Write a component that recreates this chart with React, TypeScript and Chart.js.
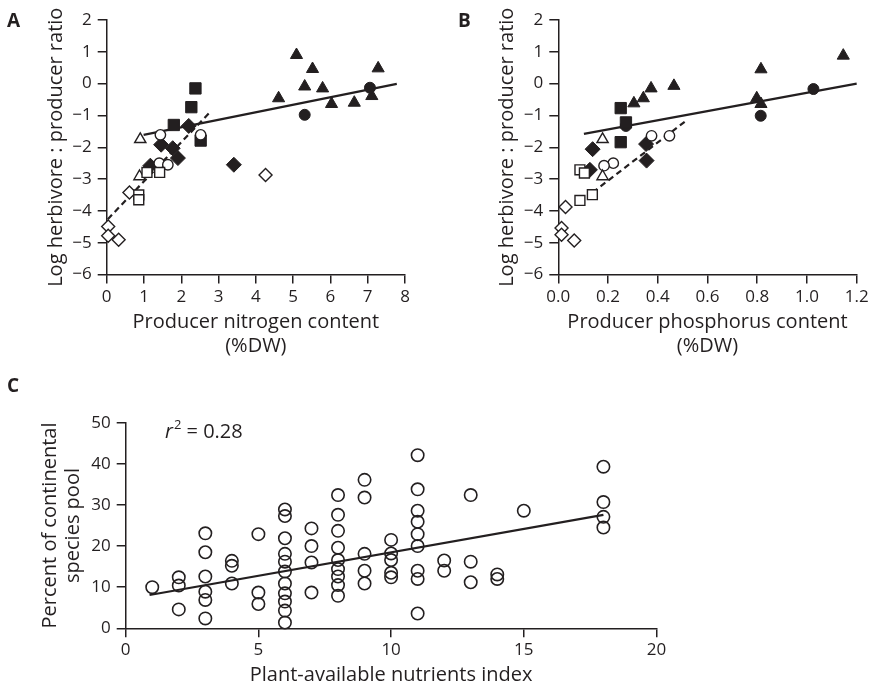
import React, { useEffect, useRef } from 'react';
import { Chart, registerables } from 'chart.js';

Chart.register(...registerables);

type Pt = [number, number];

// ---------- Panel A: producer nitrogen content (%DW) vs log herbivore:producer ratio
const aFilledTriangles: Pt[] = [[5.09, 0.9], [5.52, 0.46], [7.28, 0.48], [5.31, -0.09], [5.79, -0.15], [4.61, -0.46], [6.03, -0.64], [6.64, -0.6], [7.11, -0.39]];
const aFilledCircles: Pt[] = [[5.31, -0.98], [7.06, -0.13]];
const aFilledSquares: Pt[] = [[2.38, -0.15], [2.27, -0.74], [1.8, -1.3], [2.52, -1.79]];
const aFilledDiamonds: Pt[] = [[2.2, -1.33], [1.46, -1.92], [1.77, -2.03], [1.91, -2.34], [1.17, -2.58], [3.41, -2.55]];
const aOpenCircles: Pt[] = [[1.44, -1.61], [2.52, -1.61], [1.41, -2.5], [1.64, -2.55]];
const aOpenTriangles: Pt[] = [[0.9, -1.75], [0.88, -2.92]];
const aOpenSquares: Pt[] = [[1.08, -2.79], [1.42, -2.79], [0.86, -3.5], [0.86, -3.65]];
const aOpenDiamonds: Pt[] = [[0.61, -3.42], [0.04, -4.49], [0.04, -4.78], [0.32, -4.91], [4.26, -2.87]];
const aSolidFit: Pt[] = [[0.99, -1.61], [7.78, -0.01]];
const aDashedFit: Pt[] = [[0.03, -4.26], [2.76, -0.91]];

// ---------- Panel B: producer phosphorus content (%DW)
const bFilledTriangles: Pt[] = [[1.146, 0.88], [0.815, 0.45], [0.465, -0.07], [0.373, -0.15], [0.342, -0.46], [0.304, -0.62], [0.798, -0.46], [0.815, -0.64]];
const bFilledCircles: Pt[] = [[1.026, -0.17], [0.814, -1.01], [0.272, -1.33]];
const bFilledSquares: Pt[] = [[0.251, -0.77], [0.272, -1.22], [0.251, -1.84]];
const bFilledDiamonds: Pt[] = [[0.138, -2.06], [0.353, -1.9], [0.355, -2.42], [0.127, -2.71]];
const bOpenCircles: Pt[] = [[0.375, -1.64], [0.447, -1.64], [0.221, -2.5], [0.184, -2.58]];
const bOpenTriangles: Pt[] = [[0.178, -1.75], [0.178, -2.92]];
const bOpenSquares: Pt[] = [[0.087, -2.71], [0.105, -2.81], [0.087, -3.67], [0.137, -3.49]];
const bOpenDiamonds: Pt[] = [[0.029, -3.88], [0.013, -4.54], [0.013, -4.75], [0.064, -4.93]];
const bSolidFit: Pt[] = [[0.103, -1.58], [1.2, 0.0]];
const bDashedFit: Pt[] = [[0.138, -3.42], [0.51, -1.19]];

// ---------- Panel C: plant-available nutrients index vs percent of continental species pool
const cNutrients: number[] = [
  1,
  2, 2, 2,
  3, 3, 3, 3, 3, 3,
  4, 4, 4,
  5, 5, 5,
  6, 6, 6, 6, 6, 6, 6, 6, 6, 6, 6,
  7, 7, 7, 7,
  8, 8, 8, 8, 8, 8, 8, 8, 8,
  9, 9, 9, 9, 9,
  10, 10, 10, 10, 10,
  11, 11, 11, 11, 11, 11, 11, 11, 11,
  12, 12,
  13, 13, 13,
  14, 14,
  15,
  18, 18, 18, 18,
];
const cPercent: number[] = [
  10.0,
  12.4, 10.4, 4.6,
  23.1, 18.5, 12.6, 8.9, 6.9, 2.4,
  16.4, 15.2, 10.9,
  22.9, 8.7, 5.9,
  28.9, 27.3, 21.9, 18.1, 16.2, 13.8, 10.9, 8.5, 6.5, 4.3, 1.4,
  24.3, 20.0, 16.0, 8.7,
  32.4, 27.6, 23.7, 19.6, 16.6, 14.4, 12.6, 10.5, 7.9,
  36.1, 31.8, 18.1, 14.0, 10.9,
  21.5, 18.2, 16.6, 13.5, 12.4,
  42.1, 33.8, 28.6, 25.9, 22.9, 20.0, 14.0, 12.0, 3.6,
  16.5, 14.0,
  32.4, 16.2, 11.2,
  13.1, 12.0,
  28.6,
  39.3, 30.7, 27.1, 24.5,
];
const cFitX: number[] = [0.9, 18];
const cFitY: number[] = [8.1, 27.6];
const cR2Label = '0.28';

const INK = '#231f20';
const FONT = '"Open Sans", "Noto Sans", sans-serif';
const W = 872;
const H = 689;

const toXY = (p: Pt[]) => p.map(([x, y]) => ({ x, y }));

function markers(data: Pt[], style: string, filled: boolean, radius: number, order: number) {
  return {
    data: toXY(data),
    pointStyle: style,
    pointRadius: radius,
    pointHoverRadius: radius,
    pointBackgroundColor: filled ? INK : '#ffffff',
    pointBorderColor: INK,
    pointBorderWidth: filled ? 1 : 1.4,
    showLine: false,
    clip: false,
    order,
  };
}

function fitLine(data: Pt[], dashed: boolean) {
  return {
    data: toXY(data),
    showLine: true,
    borderColor: INK,
    borderWidth: 2.2,
    borderDash: dashed ? [6, 4] : [],
    pointRadius: 0,
    pointHoverRadius: 0,
    fill: false,
    clip: false,
    order: 100,
  };
}

function groupSets(g: Pt[][]) {
  const [fTri, fCir, fSq, fDia, oCir, oTri, oSq, oDia] = g;
  return [
    markers(fTri, 'triangle', true, 7, 8),
    markers(fCir, 'circle', true, 5.5, 7),
    markers(fSq, 'rect', true, 8, 6),
    markers(fDia, 'rectRot', true, 7.5, 5),
    markers(oCir, 'circle', false, 5.2, 4),
    markers(oTri, 'triangle', false, 6.5, 3),
    markers(oDia, 'rectRot', false, 6.5, 2),
    markers(oSq, 'rect', false, 7, 1),
  ];
}

const minusFmt = (v: number | string) => String(v).replace('-', '\u2212');

interface Spec {
  padLeft: number;
  left: number;
  right: number;
  top: number;
  bottom: number;
  xAxisH: number;
  xMin: number; xMax: number; xStep: number;
  yMin: number; yMax: number; yStep: number;
  xTitle: string | string[];
  yTitle: string | string[];
  yTitlePad: number;
  yTitleLH: number;
  xFmt: (v: number) => string;
  datasets: any[];
  draw: (ctx: CanvasRenderingContext2D) => void;
}

function buildConfig(s: Spec): any {
  const tickFont = { family: FONT, size: 17 };
  const grid = { display: true, drawOnChartArea: false, drawTicks: true, tickLength: 9, color: INK, lineWidth: 1.5 };
  const border = { display: true, color: INK, width: 1.5 };
  return {
    type: 'scatter',
    data: { datasets: s.datasets },
    plugins: [
      {
        id: 'panelText',
        afterDraw(chart: any) {
          const ctx = chart.ctx as CanvasRenderingContext2D;
          ctx.save();
          s.draw(ctx);
          ctx.restore();
        },
      },
    ],
    options: {
      responsive: false,
      animation: false,
      events: [],
      layout: {
        autoPadding: false,
        padding: { left: s.padLeft, right: W - s.right, top: s.top, bottom: H - s.bottom - s.xAxisH },
      },
      plugins: { legend: { display: false }, tooltip: { enabled: false } },
      scales: {
        x: {
          type: 'linear',
          position: 'bottom',
          min: s.xMin,
          max: s.xMax,
          afterFit: (sc: any) => { sc.height = s.xAxisH; },
          ticks: { stepSize: s.xStep, padding: 3, color: INK, font: tickFont, maxRotation: 0, autoSkip: false, callback: (v: number) => s.xFmt(v) },
          grid,
          border,
          title: { display: true, text: s.xTitle, color: INK, font: { family: FONT, size: 20, lineHeight: 1.2 }, padding: { top: 0, bottom: 0 } },
        },
        y: {
          type: 'linear',
          position: 'left',
          min: s.yMin,
          max: s.yMax,
          afterFit: (sc: any) => { sc.width = s.left - s.padLeft; },
          ticks: { stepSize: s.yStep, padding: 6, color: INK, font: tickFont, autoSkip: false, callback: (v: number) => minusFmt(v) },
          grid,
          border,
          title: { display: true, text: s.yTitle, color: INK, font: { family: FONT, size: 20, lineHeight: s.yTitleLH }, padding: { top: s.yTitlePad, bottom: 0 } },
        },
      },
    },
  };
}

function letter(ctx: CanvasRenderingContext2D, t: string, x: number, y: number) {
  ctx.fillStyle = INK;
  ctx.font = `bold 19px ${FONT}`;
  ctx.textAlign = 'left';
  ctx.textBaseline = 'alphabetic';
  ctx.fillText(t, x, y);
}

const specA: Spec = {
  padLeft: 0, left: 106.7, right: 405, top: 20, bottom: 274.5, xAxisH: 84,
  xMin: 0, xMax: 8, xStep: 1, yMin: -6, yMax: 2, yStep: 1,
  xTitle: ['Producer nitrogen content', '(%DW)'],
  yTitle: 'Log herbivore : producer ratio',
  yTitlePad: 44, yTitleLH: 1.2,
  xFmt: (v) => String(v),
  datasets: [
    ...groupSets([aFilledTriangles, aFilledCircles, aFilledSquares, aFilledDiamonds, aOpenCircles, aOpenTriangles, aOpenSquares, aOpenDiamonds]),
    fitLine(aSolidFit, false),
    fitLine(aDashedFit, true),
  ],
  draw: (ctx) => letter(ctx, 'A', 7, 27),
};

const specB: Spec = {
  padLeft: 451.6, left: 558.3, right: 856.7, top: 20, bottom: 274.5, xAxisH: 84,
  xMin: 0, xMax: 1.2, xStep: 0.2, yMin: -6, yMax: 2, yStep: 1,
  xTitle: ['Producer phosphorus content', '(%DW)'],
  yTitle: 'Log herbivore : producer ratio',
  yTitlePad: 44, yTitleLH: 1.2,
  xFmt: (v) => Number(v).toFixed(1),
  datasets: [
    ...groupSets([bFilledTriangles, bFilledCircles, bFilledSquares, bFilledDiamonds, bOpenCircles, bOpenTriangles, bOpenSquares, bOpenDiamonds]),
    fitLine(bSolidFit, false),
    fitLine(bDashedFit, true),
  ],
  draw: (ctx) => letter(ctx, 'B', 458, 27),
};

const specC: Spec = {
  padLeft: 0, left: 125.7, right: 656.5, top: 422.7, bottom: 628.3, xAxisH: 59,
  xMin: 0, xMax: 20, xStep: 5, yMin: 0, yMax: 50, yStep: 10,
  xTitle: 'Plant-available nutrients index',
  yTitle: ['Percent of continental', 'species pool'],
  yTitlePad: 38.5, yTitleLH: 1.15,
  xFmt: (v) => String(v),
  datasets: [
    {
      data: cNutrients.map((x, i) => ({ x, y: cPercent[i] })),
      pointStyle: 'circle',
      pointRadius: 6.2,
      pointHoverRadius: 6.2,
      pointBackgroundColor: 'rgba(255,255,255,0)',
      pointBorderColor: INK,
      pointBorderWidth: 1.6,
      showLine: false,
      clip: false,
      order: 1,
    },
    {
      data: cFitX.map((x, i) => ({ x, y: cFitY[i] })),
      showLine: true,
      borderColor: INK,
      borderWidth: 2.2,
      pointRadius: 0,
      pointHoverRadius: 0,
      fill: false,
      clip: false,
      order: 2,
    },
  ],
  draw: (ctx) => {
    letter(ctx, 'C', 7, 392);
    ctx.fillStyle = INK;
    ctx.textBaseline = 'alphabetic';
    ctx.textAlign = 'left';
    let x = 165;
    const y = 438;
    ctx.font = `italic 20px ${FONT}`;
    ctx.fillText('r', x, y);
    x += ctx.measureText('r').width + 1;
    ctx.font = `13px ${FONT}`;
    ctx.fillText('2', x, y - 9);
    x += ctx.measureText('2').width;
    ctx.font = `20px ${FONT}`;
    ctx.fillText(' = ' + cR2Label, x, y);
  },
};

function Panel({ spec }: { spec: Spec }) {
  const ref = useRef<HTMLCanvasElement>(null);
  useEffect(() => {
    const chart = new Chart(ref.current as HTMLCanvasElement, buildConfig(spec));
    return () => chart.destroy();
  }, [spec]);
  return (
    <canvas
      ref={ref}
      width={W}
      height={H}
      style={{ position: 'absolute', left: 0, top: 0, width: W, height: H }}
    />
  );
}

export default function App() {
  return (
    <div style={{ position: 'fixed', left: 0, top: 0, width: W, height: H, background: '#ffffff', overflow: 'hidden' }}>
      <Panel spec={specA} />
      <Panel spec={specB} />
      <Panel spec={specC} />
    </div>
  );
}
